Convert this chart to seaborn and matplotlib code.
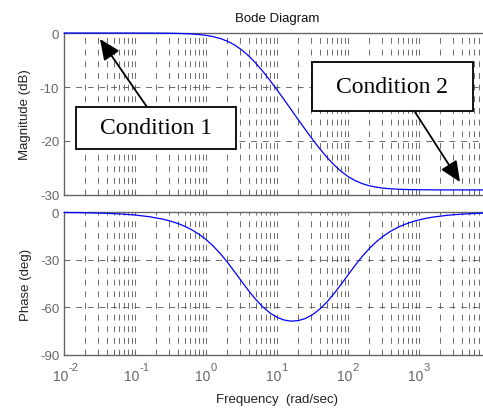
import matplotlib.pyplot as plt
import matplotlib as mpl
from matplotlib.patches import Rectangle
import pandas as pd
import numpy as np
import seaborn as sns

# values
freq = [0.01, 0.01585, 0.02512, 0.03981, 0.0631, 0.1, 0.1585, 0.2512, 0.3162, 0.3981,
        0.5012, 0.631, 0.7943, 1, 1.259, 1.585, 1.995, 2.512, 3.162, 3.981,
        5.012, 6.31, 7.943, 10, 12.59, 15.85, 19.95, 25.12, 31.62, 39.81,
        50.12, 63.1, 79.43, 100, 125.9, 158.5, 199.5, 251.2, 316.2, 398.1,
        501.2, 631, 794.3, 1000, 1259, 1585, 2512, 3981, 6310, 10000]
mag_db = [0.0, 0.0, 0.0, 0.0, -0.001, -0.005, -0.011, -0.028, -0.045, -0.071,
          -0.112, -0.176, -0.276, -0.43, -0.662, -1.01, -1.503, -2.19, -3.091, -4.22,
          -5.567, -7.09, -8.753, -10.52, -12.34, -14.2, -16.06, -17.9, -19.68, -21.39,
          -22.97, -24.38, -25.59, -26.58, -27.33, -27.9, -28.29, -28.56, -28.74, -28.85,
          -28.94, -28.98, -29.01, -29.03, -29.04, -29.05, -29.06, -29.06, -29.06, -29.06]
phase_deg = [-0.18, -0.28, -0.45, -0.71, -1.13, -1.78, -2.82, -4.47, -5.62, -7.06,
             -8.86, -11.09, -13.85, -17.23, -21.28, -26.05, -31.46, -37.39, -43.51, -49.5,
             -55.01, -59.73, -63.52, -66.3, -68.03, -68.72, -68.4, -67.03, -64.63, -61.21,
             -56.8, -51.55, -45.69, -39.57, -33.54, -27.92, -22.92, -18.59, -14.99, -12.01,
             -9.61, -7.66, -6.1, -4.85, -3.86, -3.07, -1.94, -1.23, -0.77, -0.48]

mag_ticks = [0, -10, -20, -30]
phase_ticks = [0, -30, -60, -90]
freq_ticks = [1e-2, 1e-1, 1e0, 1e1, 1e2, 1e3]
freq_exp = ['-2', '-1', '0', '1', '2', '3']

sns.set_style('ticks')
plt.rcParams['font.family'] = ['Liberation Sans', 'DejaVu Sans']
plt.rcParams['axes.unicode_minus'] = False

GRID = '#555555'
TICKC = '#666666'
SPINE = '#666666'

df = pd.DataFrame({'freq': freq, 'mag': mag_db, 'phase': phase_deg})

fig = plt.figure(figsize=(4.83, 4.10), dpi=100)
ax1 = fig.add_axes([0.1325, 0.522, 0.882, 0.395])
ax2 = fig.add_axes([0.1325, 0.132, 0.882, 0.348])


def style_axes(ax, yticks):
    ax.set_xscale('log')
    ax.set_xlim(1e-2, 1e4)
    ax.set_ylim(yticks[-1], yticks[0])
    ax.set_yticks(yticks)
    ax.grid(which='major', axis='both', color=GRID, lw=0.6, linestyle=(0, (7, 7)))
    ax.grid(which='minor', axis='x', color=GRID, lw=0.6, linestyle=(0, (7, 7)))
    ax.tick_params(which='both', direction='in', colors=TICKC, labelsize=9.5,
                   top=False, right=False)
    ax.tick_params(which='major', length=3)
    ax.tick_params(which='minor', length=2)
    for s in ax.spines.values():
        s.set_color(SPINE)
        s.set_linewidth(1.0)
    ax.set_facecolor('white')


sns.lineplot(data=df, x='freq', y='mag', ax=ax1, color='#0000ff', lw=0.9,
             clip_on=False, zorder=5)
sns.lineplot(data=df, x='freq', y='phase', ax=ax2, color='#0000ff', lw=0.9,
             clip_on=False, zorder=5)

style_axes(ax1, mag_ticks)
style_axes(ax2, phase_ticks)
ax2.set_xticks(freq_ticks)
ax1.set_xticklabels([])
ax2.set_xticklabels([])
ax1.set_xlabel('')

# matlab-style "10" with raised exponent under each decade
for t, e in zip(freq_ticks, freq_exp):
    ax2.annotate('10', xy=(t, 0), xycoords=('data', 'axes fraction'),
                 xytext=(3, -15), textcoords='offset points',
                 ha='right', va='center', fontsize=10, color=TICKC)
    ax2.annotate(e, xy=(t, 0), xycoords=('data', 'axes fraction'),
                 xytext=(3, -8.5), textcoords='offset points',
                 ha='left', va='center', fontsize=8, color=TICKC)

ax1.set_ylabel('Magnitude (dB)', fontsize=9.5, color='#222222', labelpad=6)
ax2.set_ylabel('Phase (deg)', fontsize=9.5, color='#222222', labelpad=6)
ax2.set_xlabel('Frequency  (rad/sec)', fontsize=9.5, color='#222222', labelpad=24)
ax1.set_title('Bode Diagram', fontsize=9.5, color='#111111', pad=9)

# annotation boxes (figure pixels, origin top-left)
H = 410.0
W = 483.0


def fp(x, y):
    return (x / W, (H - y) / H)


def cond_box(x0, y0, x1, y1, label):
    r = Rectangle(fp(x0, y1), (x1 - x0) / W, (y1 - y0) / H, transform=fig.transFigure,
                  facecolor='white', edgecolor='black', lw=1.3, zorder=10)
    fig.patches.append(r)
    cx, cy = fp((x0 + x1) / 2, (y0 + y1) / 2)
    fig.text(cx, cy, label, ha='center', va='center', fontsize=17,
             family='Liberation Serif', color='black', zorder=11)


cond_box(76, 108, 236, 150, 'Condition 1')
cond_box(312, 63, 473, 112, 'Condition 2')

arrow = dict(arrowstyle='-|>,head_length=0.9,head_width=0.4', color='black', lw=1.3,
             shrinkA=0, shrinkB=0)
fig.add_artist(mpl.patches.FancyArrowPatch(fp(147, 108), fp(100, 40),
                                           transform=fig.transFigure, mutation_scale=14,
                                           **arrow))
fig.add_artist(mpl.patches.FancyArrowPatch(fp(415, 113), fp(460, 183),
                                           transform=fig.transFigure, mutation_scale=14,
                                           **arrow))

fig.savefig('out.png', dpi=100)
